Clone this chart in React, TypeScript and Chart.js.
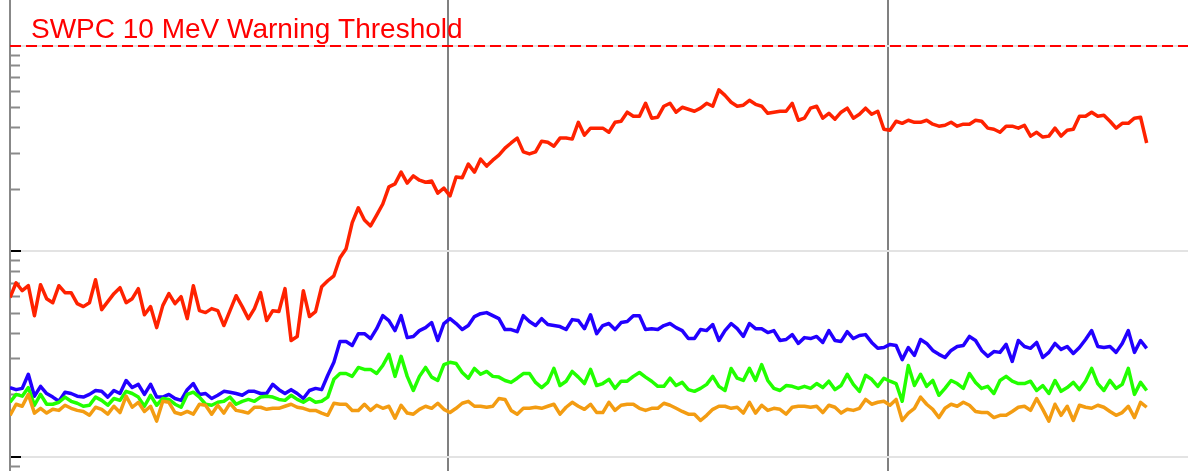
import React, { useEffect, useRef } from "react";
import { Chart, registerables } from "chart.js";

Chart.register(...registerables);

// Time axis (hours from the start of the plotted window)
const START_HOUR = 0.109;
const STEP_HOURS = 1 / 3; // 20-minute samples
const X_MIN = 0.109;
const X_MAX = 64.364;
const DAY_BOUNDARIES = [24, 48];

// Flux axis (pfu, logarithmic)
const Y_MIN = 0.08514;
const Y_MAX = 16.75;
const Y_MAJOR_TICKS = [0.1, 1, 10];
const Y_MINOR_TICKS = [0.09, 0.2, 0.3, 0.4, 0.5, 0.6, 0.7, 0.8, 0.9, 2, 3, 4, 5, 6, 7, 8, 9];

const THRESHOLD = 10;
const THRESHOLD_LABEL = "SWPC 10 MeV Warning Threshold";

const SERIES_LABELS = [">=10 MeV", ">=50 MeV", ">=100 MeV", ">=500 MeV"];

const P10 = [
  0.595, 0.703, 0.643, 0.68, 0.486, 0.688, 0.588, 0.562, 0.68, 0.629,
  0.629, 0.556, 0.538, 0.562, 0.727, 0.52, 0.569, 0.622, 0.665, 0.562,
  0.588, 0.658, 0.491, 0.538, 0.425, 0.544, 0.622, 0.556, 0.601, 0.47,
  0.68, 0.514, 0.503, 0.526, 0.514, 0.435, 0.514, 0.608, 0.538, 0.47,
  0.526, 0.629, 0.46, 0.514, 0.509, 0.658, 0.368, 0.385, 0.643, 0.481,
  0.509, 0.672, 0.719, 0.76, 0.93, 1.03, 1.38, 1.63, 1.42, 1.33,
  1.5, 1.7, 2.06, 2.13, 2.43, 2.15, 2.33, 2.22, 2.17, 2.2,
  1.92, 2.03, 1.86, 2.3, 2.28, 2.66, 2.43, 2.81, 2.6, 2.78,
  2.94, 3.18, 3.37, 3.56, 3.05, 2.98, 3.05, 3.44, 3.4, 3.25,
  3.56, 3.56, 3.52, 4.25, 3.68, 3.98, 3.98, 3.98, 3.8, 4.25,
  4.3, 4.76, 4.55, 4.55, 5.26, 4.45, 4.5, 5.09, 5.26, 4.76,
  5.03, 4.92, 4.81, 4.98, 5.26, 5.09, 6.11, 5.75, 5.32, 5.09,
  5.15, 5.44, 5.2, 5.09, 4.7, 4.76, 4.81, 4.81, 5.26, 4.35,
  4.45, 4.98, 5.09, 4.45, 4.7, 4.4, 4.76, 4.98, 4.45, 4.65,
  4.98, 4.65, 4.81, 3.93, 3.89, 4.3, 4.2, 4.35, 4.25, 4.25,
  4.35, 4.16, 4.07, 4.11, 4.25, 4.07, 4.16, 4.16, 4.35, 4.3,
  3.98, 3.93, 3.8, 4.07, 4.07, 3.98, 4.11, 3.64, 3.8, 3.6,
  3.64, 3.98, 3.64, 3.89, 3.93, 4.55, 4.55, 4.76, 4.55, 4.6,
  4.3, 3.98, 4.2, 4.2, 4.45, 4.5, 3.37,
];

const P50 = [
  0.217, 0.212, 0.215, 0.252, 0.197, 0.22, 0.203, 0.195, 0.186, 0.206,
  0.203, 0.197, 0.195, 0.201, 0.21, 0.208, 0.195, 0.21, 0.203, 0.235,
  0.217, 0.225, 0.201, 0.225, 0.195, 0.195, 0.201, 0.192, 0.188, 0.212,
  0.227, 0.201, 0.203, 0.192, 0.199, 0.208, 0.206, 0.203, 0.199, 0.208,
  0.208, 0.203, 0.203, 0.225, 0.212, 0.203, 0.212, 0.203, 0.192, 0.21,
  0.215, 0.212, 0.249, 0.288, 0.364, 0.364, 0.348, 0.397, 0.397, 0.376,
  0.42, 0.486, 0.46, 0.411, 0.486, 0.38, 0.385, 0.411, 0.425, 0.45,
  0.368, 0.445, 0.47, 0.445, 0.416, 0.435, 0.481, 0.497, 0.503, 0.486,
  0.47, 0.416, 0.416, 0.406, 0.486, 0.455, 0.435, 0.47, 0.44, 0.435,
  0.43, 0.416, 0.465, 0.46, 0.42, 0.491, 0.397, 0.435, 0.445, 0.416,
  0.45, 0.455, 0.486, 0.486, 0.416, 0.42, 0.416, 0.435, 0.445, 0.425,
  0.411, 0.376, 0.376, 0.416, 0.411, 0.44, 0.368, 0.411, 0.445, 0.42,
  0.385, 0.445, 0.42, 0.42, 0.402, 0.411, 0.368, 0.372, 0.393, 0.356,
  0.38, 0.376, 0.385, 0.36, 0.411, 0.368, 0.364, 0.406, 0.376, 0.389,
  0.393, 0.36, 0.337, 0.34, 0.352, 0.348, 0.297, 0.34, 0.311, 0.372,
  0.356, 0.329, 0.315, 0.304, 0.329, 0.344, 0.348, 0.385, 0.368, 0.329,
  0.308, 0.325, 0.322, 0.352, 0.291, 0.368, 0.344, 0.337, 0.36, 0.304,
  0.322, 0.356, 0.333, 0.344, 0.318, 0.34, 0.372, 0.411, 0.344, 0.34,
  0.344, 0.322, 0.356, 0.411, 0.322, 0.368, 0.337,
];

const P100 = [
  0.184, 0.201, 0.197, 0.217, 0.178, 0.201, 0.18, 0.18, 0.184, 0.195,
  0.186, 0.182, 0.176, 0.178, 0.195, 0.188, 0.178, 0.192, 0.188, 0.208,
  0.203, 0.195, 0.176, 0.199, 0.178, 0.192, 0.19, 0.18, 0.174, 0.201,
  0.206, 0.195, 0.18, 0.178, 0.184, 0.186, 0.195, 0.18, 0.186, 0.19,
  0.186, 0.195, 0.197, 0.195, 0.19, 0.188, 0.199, 0.19, 0.184, 0.192,
  0.184, 0.186, 0.195, 0.238, 0.254, 0.254, 0.246, 0.272, 0.266, 0.266,
  0.254, 0.278, 0.315, 0.246, 0.308, 0.246, 0.21, 0.246, 0.272, 0.244,
  0.235, 0.281, 0.288, 0.284, 0.257, 0.241, 0.269, 0.252, 0.26, 0.246,
  0.244, 0.235, 0.23, 0.241, 0.254, 0.254, 0.23, 0.217, 0.23, 0.269,
  0.222, 0.233, 0.26, 0.244, 0.227, 0.266, 0.222, 0.227, 0.238, 0.215,
  0.233, 0.233, 0.246, 0.257, 0.244, 0.233, 0.22, 0.22, 0.241, 0.222,
  0.23, 0.212, 0.208, 0.215, 0.225, 0.246, 0.22, 0.21, 0.269, 0.241,
  0.235, 0.269, 0.235, 0.281, 0.235, 0.215, 0.21, 0.222, 0.22, 0.215,
  0.22, 0.215, 0.227, 0.217, 0.233, 0.212, 0.222, 0.252, 0.225, 0.208,
  0.249, 0.238, 0.22, 0.241, 0.233, 0.227, 0.186, 0.278, 0.222, 0.252,
  0.22, 0.235, 0.199, 0.215, 0.235, 0.227, 0.215, 0.254, 0.23, 0.215,
  0.22, 0.203, 0.235, 0.246, 0.233, 0.227, 0.227, 0.233, 0.21, 0.222,
  0.203, 0.235, 0.208, 0.217, 0.23, 0.212, 0.233, 0.269, 0.227, 0.21,
  0.235, 0.215, 0.225, 0.269, 0.201, 0.23, 0.21,
];

const P500 = [
  0.159, 0.18, 0.176, 0.201, 0.163, 0.172, 0.163, 0.17, 0.168, 0.178,
  0.172, 0.168, 0.166, 0.159, 0.174, 0.17, 0.161, 0.176, 0.164, 0.197,
  0.174, 0.184, 0.166, 0.176, 0.149, 0.186, 0.184, 0.164, 0.161, 0.166,
  0.161, 0.18, 0.178, 0.161, 0.178, 0.163, 0.182, 0.168, 0.166, 0.163,
  0.174, 0.174, 0.17, 0.172, 0.172, 0.176, 0.18, 0.174, 0.172, 0.168,
  0.168, 0.163, 0.159, 0.182, 0.18, 0.18, 0.168, 0.168, 0.18, 0.168,
  0.178, 0.172, 0.176, 0.154, 0.178, 0.163, 0.161, 0.17, 0.176, 0.172,
  0.182, 0.17, 0.164, 0.172, 0.182, 0.186, 0.176, 0.176, 0.174, 0.176,
  0.192, 0.19, 0.168, 0.161, 0.172, 0.172, 0.174, 0.172, 0.176, 0.18,
  0.161, 0.174, 0.184, 0.176, 0.17, 0.18, 0.164, 0.164, 0.184, 0.168,
  0.178, 0.18, 0.18, 0.172, 0.168, 0.172, 0.172, 0.182, 0.178, 0.172,
  0.166, 0.161, 0.161, 0.15, 0.159, 0.17, 0.176, 0.176, 0.172, 0.174,
  0.163, 0.184, 0.163, 0.178, 0.168, 0.172, 0.17, 0.161, 0.174, 0.176,
  0.176, 0.174, 0.176, 0.164, 0.178, 0.174, 0.163, 0.17, 0.168, 0.172,
  0.19, 0.18, 0.184, 0.186, 0.178, 0.19, 0.15, 0.163, 0.172, 0.195,
  0.18, 0.17, 0.155, 0.172, 0.18, 0.176, 0.184, 0.178, 0.166, 0.164,
  0.164, 0.155, 0.159, 0.159, 0.166, 0.174, 0.176, 0.168, 0.192, 0.17,
  0.149, 0.18, 0.159, 0.176, 0.15, 0.178, 0.174, 0.172, 0.178, 0.174,
  0.166, 0.159, 0.164, 0.176, 0.155, 0.184, 0.174,
];

const COLORS = ["#ff2200", "#2200ff", "#22ff00", "#f39c12"];

const toPoints = (vals: number[]) =>
  vals.map((v, i) => ({ x: START_HOUR + i * STEP_HOURS, y: v }));

const thresholdLabelPlugin = {
  id: "thresholdLabel",
  afterDatasetsDraw(chart: any) {
    const { ctx, scales, chartArea } = chart;
    const y = scales.y.getPixelForValue(THRESHOLD);
    ctx.save();
    ctx.font = '28px "Liberation Sans", Arial, sans-serif';
    ctx.fillStyle = "#ff0000";
    ctx.textBaseline = "alphabetic";
    ctx.textAlign = "left";
    ctx.fillText(THRESHOLD_LABEL, chartArea.left + 21, y - 8);
    ctx.restore();
  },
};

export default function App() {
  const ref = useRef<HTMLCanvasElement>(null);

  useEffect(() => {
    if (!ref.current) return;
    const seriesData = [P10, P50, P100, P500];
    const lineSets = seriesData.map((vals, k) => ({
      label: SERIES_LABELS[k],
      data: toPoints(vals),
      borderColor: COLORS[k],
      backgroundColor: COLORS[k],
      borderWidth: 3.5,
      pointRadius: 0,
      tension: 0,
      fill: false,
      borderJoinStyle: "round" as const,
      yAxisID: "y",
    }));
    const threshold = {
      label: "threshold",
      data: [
        { x: X_MIN, y: THRESHOLD },
        { x: X_MAX, y: THRESHOLD },
      ],
      borderColor: "#ff0000",
      borderWidth: 2,
      borderDash: [11, 5],
      pointRadius: 0,
      fill: false,
      yAxisID: "y",
    };
    const chart = new Chart(ref.current, {
      type: "line",
      data: {
        datasets: [threshold, lineSets[3], lineSets[2], lineSets[1], lineSets[0]],
      },
      options: {
        animation: false,
        responsive: false,
        devicePixelRatio: 1,
        layout: { padding: { left: 10, right: 0, top: 0, bottom: 0 } },
        plugins: { legend: { display: false }, tooltip: { enabled: false } },
        scales: {
          x: {
            type: "linear",
            min: X_MIN,
            max: X_MAX,
            afterBuildTicks: (s: any) => {
              s.ticks = DAY_BOUNDARIES.map((v) => ({ value: v }));
            },
            ticks: { display: false },
            grid: { color: "#808080", lineWidth: 2, drawTicks: false },
            border: { display: false },
          },
          yMinor: {
            type: "logarithmic",
            position: { x: X_MIN },
            display: true,
            min: Y_MIN,
            max: Y_MAX,
            afterBuildTicks: (s: any) => {
              s.ticks = Y_MINOR_TICKS.map((v) => ({ value: v, major: false }));
            },
            ticks: { display: false },
            grid: {
              drawOnChartArea: false,
              drawTicks: true,
              tickLength: -10,
              tickColor: "#8a8a8a",
              tickWidth: 2,
            },
            border: { display: false },
          },
          y: {
            type: "logarithmic",
            position: { x: X_MIN },
            min: Y_MIN,
            max: Y_MAX,
            afterBuildTicks: (s: any) => {
              s.ticks = Y_MAJOR_TICKS.map((v) => ({ value: v, major: true }));
            },
            ticks: { display: false },
            grid: {
              color: "#e3e3e3",
              lineWidth: 2,
              drawTicks: true,
              tickLength: -12,
              tickColor: "#000000",
              tickWidth: 2,
            },
            border: { display: true, color: "#888888", width: 2 },
          },
        },
      } as any,
      plugins: [thresholdLabelPlugin],
    });
    return () => chart.destroy();
  }, []);

  return (
    <div style={{ position: "fixed", left: 0, top: 0, width: 1188, height: 471, background: "#ffffff" }}>
      <canvas ref={ref} width={1188} height={471} style={{ display: "block", width: 1188, height: 471 }} />
    </div>
  );
}
